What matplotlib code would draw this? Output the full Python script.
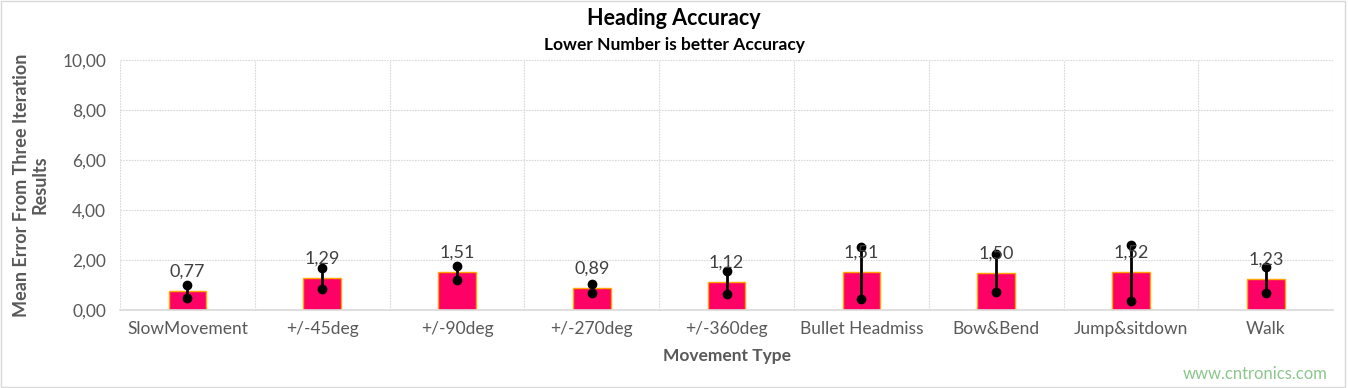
import numpy as np
import matplotlib.pyplot as plt
from matplotlib.patches import Rectangle

plt.rcParams['font.family'] = ['Lato', 'DejaVu Sans']

categories = ['SlowMovement', '+/-45deg', '+/-90deg', '+/-270deg', '+/-360deg',
              'Bullet Headmiss', 'Bow&Bend', 'Jump&sitdown', 'Walk']
mean_error = [0.77, 1.29, 1.51, 0.89, 1.12, 1.51, 1.50, 1.52, 1.23]
err_low = [0.47, 0.83, 1.20, 0.67, 0.64, 0.44, 0.72, 0.36, 0.68]
err_high = [1.00, 1.69, 1.76, 1.04, 1.56, 2.53, 2.23, 2.61, 1.73]
yticks = [0, 2, 4, 6, 8, 10]

fig = plt.figure(figsize=(13.48, 3.88), dpi=100, facecolor='w')
ax = fig.add_axes([0.089, 0.201, 0.900, 0.644])

x = np.arange(len(categories))
ax.bar(x, mean_error, width=0.28, color='#FF0066', edgecolor='#FFA500', linewidth=1, zorder=2)

for xi, lo, hi in zip(x, err_low, err_high):
    ax.plot([xi, xi], [lo, hi], color='black', linewidth=2, marker='o',
            markersize=6, zorder=3)

for xi, v in zip(x, mean_error):
    ax.text(xi, v + 0.45, format(v, '.2f').replace('.', ','), ha='center', va='bottom',
            fontsize=13, color='#404040', zorder=4)

ax.set_xlim(-0.5, len(categories) - 0.5)
ax.set_ylim(0, 10)
ax.set_yticks(yticks)
ax.set_yticklabels([format(t, '.2f').replace('.', ',') for t in yticks], fontsize=12.5, color='#595959')
ax.set_xticks(x)
ax.set_xticklabels(categories, fontsize=12.5, color='#595959')
ax.set_xticks(np.arange(-0.5, len(categories)), minor=True)
ax.tick_params(axis='both', which='both', length=0)
ax.tick_params(axis='x', pad=8)
ax.tick_params(axis='y', pad=10)

ax.grid(axis='y', which='major', color='#D9D9D9', linestyle=(0, (1.5, 1)), linewidth=0.8, zorder=0)
ax.grid(axis='x', which='minor', color='#D9D9D9', linestyle=(0, (1.5, 1)), linewidth=0.8, zorder=0)
for s in ['top', 'right', 'left']:
    ax.spines[s].set_visible(False)
ax.spines['bottom'].set_color('#D9D9D9')
ax.spines['bottom'].set_linewidth(1.2)

ax.set_xlabel('Movement Type', fontsize=12.5, fontweight='bold', color='#595959', labelpad=8)
ax.set_ylabel('Mean Error From Three Iteration\nResults', fontsize=13, fontweight='bold',
              color='#595959', labelpad=10, linespacing=1.1)

fig.text(0.5, 0.952, 'Heading Accuracy', ha='center', va='center', fontsize=15.5, fontweight='bold')
fig.text(0.5, 0.884, 'Lower Number is better Accuracy', ha='center', va='center', fontsize=12.5,
         fontweight='bold')
fig.text(0.985, 0.035, 'www.cntronics.com', ha='right', va='center', fontsize=12, color='#8CC68C')

fig.add_artist(Rectangle((0.001, 0.002), 0.997, 0.995, transform=fig.transFigure,
                         fill=False, edgecolor='#D9D9D9', linewidth=1))

plt.savefig('out.png', dpi=100)
